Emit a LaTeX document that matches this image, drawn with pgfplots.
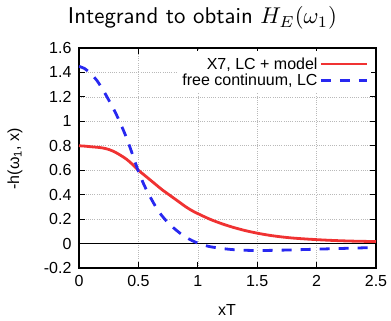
\documentclass[border=0pt]{standalone}
\usepackage{pgfplots}
\pgfplotsset{compat=1.18}
\usepackage{graphicx}
\usepackage{fontspec}
\setmainfont{Liberation Sans}
\definecolor{myred}{RGB}{240,50,50}
\definecolor{myblue}{RGB}{40,40,240}
\begin{document}
\begin{tikzpicture}
\begin{axis}[
  scale only axis,
  width=297pt, height=220pt,
  xmin=0, xmax=2.5, ymin=-0.2, ymax=1.6,
  xtick={0,0.5,1,1.5,2,2.5},
  xticklabels={0,0.5,1,1.5,2,2.5},
  ytick={-0.2,0,0.2,0.4,0.6,0.8,1,1.2,1.4,1.6},
  yticklabels={-0.2,0,0.2,0.4,0.6,0.8,1,1.2,1.4,1.6},
  tick align=inside,
  major tick length=6pt,
  every tick/.style={black, line width=0.9pt},
  axis line style={line width=1.2pt},
  grid=major,
  grid style={gray!55, line width=0.6pt, dash pattern=on 0.7pt off 1.5pt},
  tick label style={font=\fontsize{16}{19}\selectfont},
  xticklabel style={yshift=-4pt},
  yticklabel style={xshift=-4pt},
  legend style={at={(rel axis cs:0.985,0.985)}, anchor=north east, draw=none, fill=white,
    font=\fontsize{16}{18}\selectfont, row sep=-1pt, inner xsep=3pt, inner ysep=4pt},
  legend cell align=right,
  legend plot pos=right,
  legend image code/.code={\draw[#1] (0pt,0pt) -- (46pt,0pt);},
  clip=true,
]
\coordinate (bl) at (rel axis cs:0,0);
\addplot[black, line width=0.9pt, forget plot] coordinates {(0,0) (2.5,0)};
\addplot[myred, line width=2.8pt, smooth] coordinates {
(0,0.80) (0.05,0.797) (0.1,0.792) (0.15,0.788) (0.2,0.782) (0.25,0.77) (0.3,0.75)
(0.35,0.722) (0.4,0.69) (0.45,0.648) (0.5,0.60) (0.55,0.56) (0.6,0.52) (0.65,0.48)
(0.7,0.44) (0.75,0.405) (0.8,0.37) (0.85,0.335) (0.9,0.30) (0.95,0.27) (1.0,0.245)
(1.1,0.20) (1.2,0.163) (1.3,0.132) (1.4,0.106) (1.5,0.085) (1.6,0.068) (1.7,0.055)
(1.8,0.045) (1.9,0.038) (2.0,0.032) (2.1,0.027) (2.2,0.023) (2.3,0.02) (2.4,0.018) (2.5,0.016)};
\addlegendentry{X7, LC + model}
\addplot[myblue, line width=2.8pt, dash pattern=on 10pt off 9pt, smooth] coordinates {
(0,1.45) (0.05,1.43) (0.1,1.39) (0.15,1.335) (0.2,1.26) (0.25,1.175) (0.3,1.085)
(0.35,0.98) (0.4,0.865) (0.45,0.73) (0.5,0.59) (0.55,0.475) (0.6,0.38) (0.65,0.295)
(0.7,0.225) (0.75,0.17) (0.8,0.125) (0.85,0.085) (0.9,0.052) (0.95,0.025) (1.0,0.004)
(1.05,-0.012) (1.1,-0.025) (1.2,-0.040) (1.3,-0.050) (1.4,-0.055) (1.5,-0.057)
(1.6,-0.056) (1.75,-0.053) (2.0,-0.046) (2.25,-0.039) (2.5,-0.032)};
\addlegendentry{free continuum, LC}
\end{axis}
\node[inner sep=0pt] at ([xshift=123.5pt,yshift=250pt]bl) {\resizebox{269pt}{!}{\sffamily\normalsize Integrand to obtain $H_E(\omega_1)$}};
\node[rotate=90, font=\fontsize{16}{19}\selectfont] at ([xshift=-64pt,yshift=109pt]bl) {-h(ω\textsubscript{1}, x)};
\node[font=\fontsize{16}{19}\selectfont] at ([xshift=148pt,yshift=-42pt]bl) {xT};
\path[use as bounding box] ([xshift=-79pt,yshift=-53pt]bl) rectangle ([xshift=312pt,yshift=268pt]bl);
\end{tikzpicture}
\end{document}
